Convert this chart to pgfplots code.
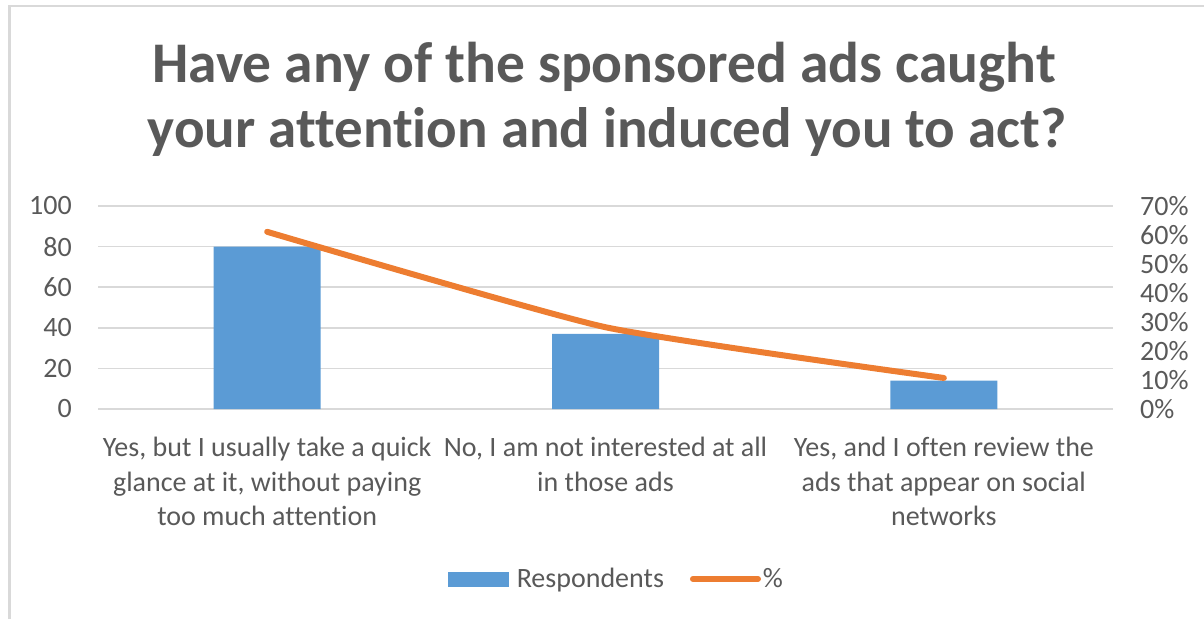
\documentclass[border=0pt]{standalone}
\usepackage{fontspec}
\setmainfont{Carlito}[Ligatures=NoCommon]
\usepackage{pgfplots}
\pgfplotsset{compat=1.18}

\definecolor{barblue}{HTML}{5B9BD5}
\definecolor{lineorange}{HTML}{ED7D31}
\definecolor{gridgray}{HTML}{D9D9D9}
\definecolor{txtgray}{HTML}{595959}

\begin{document}
\begin{tikzpicture}
  \path[use as bounding box] (0pt,0pt) rectangle (1204pt,619pt);
  % chart frame (only left and top edges show in the screenshot)
  \draw[gridgray, line width=2.5pt] (9.5pt,0pt) -- (9.5pt,613pt) -- (1204pt,613pt);

  % title
  \node[anchor=base, text=txtgray, font=\fontsize{57.5}{66}\selectfont\bfseries]
    at (604pt,536pt) {Have any of the sponsored ads caught};
  \node[anchor=base, text=txtgray, font=\fontsize{57}{66}\selectfont\bfseries]
    at (607pt,471pt) {your attention and induced you to act?};

  % respondents (left axis)
  \begin{axis}[
      at={(98pt,210pt)}, anchor=south west,
      scale only axis,
      width=1015pt, height=203pt,
      xmin=-0.5, xmax=2.5,
      ymin=0, ymax=100,
      ytick={0,20,...,100},
      xtick={0,1,2},
      xticklabels={
        {Yes, but I usually take a quick\\glance at it, without paying\\too much attention},
        {No, I am not interested at all\\in those ads},
        {Yes, and I often review the\\ads that appear on social\\networks}},
      axis x line*=bottom, axis y line*=left,
      axis line style={draw=none},
      major tick length=0pt,
      ymajorgrids,
      grid style={gridgray, line width=1.5pt},
      /pgf/number format/assume math mode=true,
      yticklabel style={anchor=east, inner sep=0pt, xshift=-26pt,
        text=txtgray, font=\fontsize{28}{34}\selectfont},
      xticklabel style={anchor=north, inner sep=0pt, yshift=-28pt, align=center,
        text=txtgray, font=\fontsize{28}{34.5}\selectfont},
    ]
    \addplot[ybar, bar width=107pt, fill=barblue, draw=none]
      coordinates {(0,80) (1,37) (2,14)};
  \end{axis}

  % share in % (right axis)
  \begin{axis}[
      at={(98pt,210pt)}, anchor=south west,
      scale only axis,
      width=1015pt, height=203pt,
      xmin=-0.5, xmax=2.5,
      ymin=0, ymax=70,
      ytick={0,10,...,70},
      xtick=\empty,
      axis x line*=bottom, axis y line*=right,
      axis line style={draw=none},
      major tick length=0pt,
      /pgf/number format/assume math mode=true,
      yticklabel={\pgfmathprintnumber{\tick}\%},
      yticklabel style={anchor=west, inner sep=0pt, xshift=27pt,
        text=txtgray, font=\fontsize{28}{34}\selectfont},
      legend columns=2,
      legend style={at={(rel axis cs:0.511,-0.837)}, anchor=center, draw=none,
        fill=none, text=txtgray, font=\fontsize{28}{34}\selectfont,
        inner sep=0pt,
        /tikz/every odd column/.append style={column sep=6pt},
        /tikz/every even column/.append style={column sep=27pt}},
    ]
    \addlegendimage{legend image code/.code={\fill[barblue] (0pt,-7pt) rectangle (60pt,7pt);}}
    \addlegendentry{Respondents}
    \addplot[lineorange, line width=6pt, line join=round, line cap=round,
      smooth, tension=0.3,
      legend image code/.code={%
        \path[draw=none, fill=none] (0pt,-3pt) rectangle (62pt,3pt);
        \draw[overlay, lineorange, line width=6pt, line cap=round] (0pt,0pt) -- (65pt,0pt);}]
      coordinates {(0,61.1) (1,28.2) (2,10.7)};
    \addlegendentry{\%}
  \end{axis}
\end{tikzpicture}
\end{document}
